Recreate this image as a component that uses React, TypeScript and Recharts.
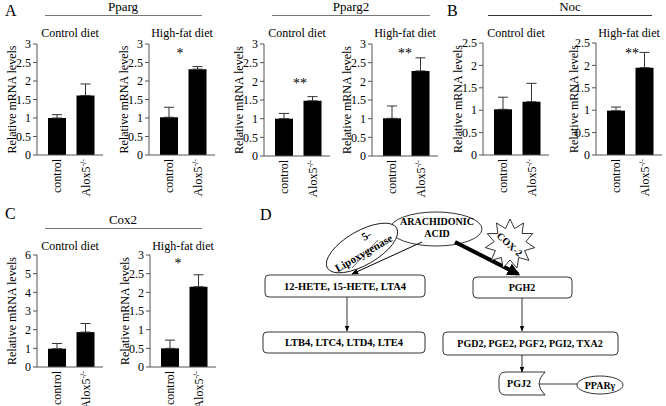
import React from 'react';
import { BarChart, Bar, XAxis, YAxis, ErrorBar, Label } from 'recharts';

// categories on every small chart
const groups = ['control', 'Alox5'];

// Pparg
const ppargControl = [1.0, 1.61];
const ppargControlErr = [0.09, 0.31];
const ppargHfd = [1.02, 2.32];
const ppargHfdErr = [0.27, 0.07];

// Pparg2
const pparg2Control = [1.0, 1.48];
const pparg2ControlErr = [0.14, 0.11];
const pparg2Hfd = [1.01, 2.28];
const pparg2HfdErr = [0.33, 0.35];

// Noc
const nocControl = [1.02, 1.19];
const nocControlErr = [0.27, 0.41];
const nocHfd = [0.99, 1.95];
const nocHfdErr = [0.08, 0.34];

// Cox2
const cox2Control = [0.98, 1.87];
const cox2ControlErr = [0.28, 0.46];
const cox2Hfd = [0.5, 2.15];
const cox2HfdErr = [0.22, 0.32];

const ticks3 = [0, 0.5, 1, 1.5, 2, 2.5, 3];
const ticks25 = [0, 0.5, 1, 1.5, 2, 2.5];
const ticks6 = [0, 1, 2, 3, 4, 5, 6];

const FONT = "'Liberation Serif', 'DejaVu Serif', 'Times New Roman', serif";
const AXIS = '#555';

const toRows = (vals: number[], errs: number[]) =>
  groups.map((g, i) => ({ name: g, value: vals[i], err: [0, errs[i]] }));

const XTick = ({ x, y, payload }: any) => (
  <text
    transform={`translate(${x},${y - 4}) rotate(-90)`}
    textAnchor="end"
    dy="0.35em"
    fontSize={12}
    style={{ fontFamily: FONT }}
    fill="#000"
  >
    {payload.value === 'Alox5' ? (
      <>
        Alox5<tspan fontSize={8} dy="-0.5em">-/-</tspan>
      </>
    ) : (
      payload.value
    )}
  </text>
);

const YLab = ({ viewBox, shift }: any) => {
  const cx = viewBox.x + viewBox.width - shift;
  const cy = viewBox.y + viewBox.height / 2;
  return (
    <text
      transform={`translate(${cx},${cy}) rotate(-90)`}
      textAnchor="middle"
      dy="0.35em"
      fontSize={12}
      style={{ fontFamily: FONT }}
      fill="#000"
    >
      Relative mRNA levels
    </text>
  );
};

interface PanelProps {
  axisX: number;
  plotTop: number;
  plotH: number;
  vals: number[];
  errs: number[];
  ticks: number[];
  labelShift?: number;
}

const Panel: React.FC<PanelProps> = ({ axisX, plotTop, plotH, vals, errs, ticks, labelShift = 25 }) => {
  const data = toRows(vals, errs);
  return (
    <div style={{ position: 'absolute', left: axisX - 50, top: plotTop - 10 }}>
      <BarChart width={120} height={plotH + 60} data={data} margin={{ top: 10, right: 4, left: 20, bottom: 0 }}>
        <XAxis
          dataKey="name"
          height={50}
          tickLine={false}
          axisLine={{ stroke: AXIS }}
          padding={{ left: 6, right: 3 }}
          interval={0}
          tick={<XTick />}
        />
        <YAxis
          width={30}
          domain={[0, ticks[ticks.length - 1]]}
          ticks={ticks}
          interval={0}
          tickSize={4}
          tickMargin={2}
          axisLine={{ stroke: AXIS }}
          tickLine={{ stroke: AXIS }}
          tick={{ fontSize: 12, fill: '#000', style: { fontFamily: FONT } }}
        >
          <Label content={(p: any) => <YLab viewBox={p.viewBox} shift={labelShift} />} />
        </YAxis>
        <Bar dataKey="value" fill="#000" barSize={18} isAnimationActive={false}>
          <ErrorBar dataKey="err" width={5} stroke="#333" strokeWidth={1} direction="y" />
        </Bar>
      </BarChart>
    </div>
  );
};

const starPoints = (cx: number, cy: number, ro: number, ri: number, n: number) => {
  const pts: string[] = [];
  for (let i = 0; i < n * 2; i++) {
    const r = i % 2 === 0 ? ro : ri;
    const a = (i * Math.PI) / n - Math.PI / 2;
    pts.push(`${(cx + r * Math.cos(a)).toFixed(1)},${(cy + r * Math.sin(a)).toFixed(1)}`);
  }
  return pts.join(' ');
};

const Overlay = () => {
  const t = { style: { fontFamily: FONT }, fill: '#000' } as const;
  const b = {
    style: { fontFamily: FONT, fontWeight: 'bold' as const },
    fill: '#000',
    fontSize: 10,
    textAnchor: 'middle' as const,
  };
  return (
    <svg width={666} height={406} style={{ position: 'absolute', left: 0, top: 0, pointerEvents: 'none' }}>
      <defs>
        <marker id="thin" viewBox="0 0 10 10" refX="9" refY="5" markerWidth="7" markerHeight="7" orient="auto">
          <path d="M0,1 L10,5 L0,9 z" fill="#000" />
        </marker>
        <marker id="thick" viewBox="0 0 10 10" refX="8" refY="5" markerWidth="3.2" markerHeight="3.2" orient="auto">
          <path d="M0,0 L10,5 L0,10 z" fill="#000" />
        </marker>
      </defs>

      {/* panel letters */}
      <text x={5} y={16} fontSize={16} {...t}>A</text>
      <text x={447} y={16} fontSize={16} {...t}>B</text>
      <text x={5} y={219} fontSize={16} {...t}>C</text>
      <text x={260} y={220} fontSize={16} {...t}>D</text>

      {/* gene headers */}
      <text x={123} y={11} fontSize={13} textAnchor="middle" {...t}>Pparg</text>
      <line x1={45} x2={202} y1={15.5} y2={15.5} stroke="#777" />
      <text x={351} y={11} fontSize={13} textAnchor="middle" {...t}>Pparg2</text>
      <line x1={272} x2={430} y1={15.5} y2={15.5} stroke="#777" />
      <text x={570} y={11} fontSize={13} textAnchor="middle" {...t}>Noc</text>
      <line x1={488} x2={652} y1={15.5} y2={15.5} stroke="#333" />
      <text x={123} y={224} fontSize={13} textAnchor="middle" {...t}>Cox2</text>
      <line x1={45} x2={202} y1={228.5} y2={228.5} stroke="#777" />

      {/* diet titles */}
      <text x={70} y={37} fontSize={12} textAnchor="middle" {...t}>Control diet</text>
      <text x={182} y={37} fontSize={12} textAnchor="middle" {...t}>High-fat diet</text>
      <text x={297} y={37} fontSize={12} textAnchor="middle" {...t}>Control diet</text>
      <text x={405} y={37} fontSize={12} textAnchor="middle" {...t}>High-fat diet</text>
      <text x={516} y={37} fontSize={12} textAnchor="middle" {...t}>Control diet</text>
      <text x={629} y={37} fontSize={12} textAnchor="middle" {...t}>High-fat diet</text>
      <text x={70} y={250} fontSize={12} textAnchor="middle" {...t}>Control diet</text>
      <text x={183} y={250} fontSize={12} textAnchor="middle" {...t}>High-fat diet</text>

      {/* significance marks */}
      <text x={180} y={58} fontSize={14} textAnchor="middle" {...t}>*</text>
      <text x={300} y={88} fontSize={14} textAnchor="middle" {...t}>**</text>
      <text x={405} y={58} fontSize={14} textAnchor="middle" {...t}>**</text>
      <text x={632} y={58} fontSize={14} textAnchor="middle" {...t}>**</text>
      <text x={178} y={268} fontSize={14} textAnchor="middle" {...t}>*</text>

      {/* D: pathway scheme */}
      <ellipse cx={436} cy={229} rx={46} ry={17} fill="#fff" stroke="#000" strokeWidth={0.8} />
      <text x={437} y={225} {...b}>ARACHIDONIC</text>
      <text x={437} y={237} {...b}>ACID</text>

      <g transform="translate(362,248) rotate(-30)">
        <ellipse cx={0} cy={0} rx={40} ry={17} fill="#fff" stroke="#000" strokeWidth={0.8} />
        <text x={10} y={-5} {...b} fontSize={11}>5-</text>
        <text x={-1} y={9} {...b} fontSize={11}>Lipoxygenase</text>
      </g>
      <line x1={352} y1={268} x2={378} y2={240} stroke="#000" strokeWidth={0.6} />

      <line x1={422} y1={242} x2={352} y2={274} stroke="#000" strokeWidth={1} markerEnd="url(#thin)" />
      <line x1={455} y1={242} x2={518} y2={274} stroke="#000" strokeWidth={4} markerEnd="url(#thick)" />

      <polygon points={starPoints(510, 244, 25, 16, 11)} fill="#fff" stroke="#000" strokeWidth={0.8} />
      <text x={510} y={248} {...b} transform="rotate(42 510 244)">COX-2</text>

      <rect x={265} y={275} width={160} height={22} rx={4} fill="#fff" stroke="#000" strokeWidth={0.8} />
      <text x={345} y={290} {...b} fontSize={10.5}>12-HETE, 15-HETE, LTA4</text>
      <rect x={473} y={277} width={99} height={21} rx={4} fill="#fff" stroke="#000" strokeWidth={0.8} />
      <text x={522} y={291} {...b}>PGH2</text>

      <line x1={347} y1={297} x2={347} y2={331} stroke="#000" strokeWidth={0.8} markerEnd="url(#thin)" />
      <line x1={522} y1={298} x2={522} y2={331} stroke="#000" strokeWidth={0.8} markerEnd="url(#thin)" />

      <rect x={263} y={332} width={162} height={21} rx={4} fill="#fff" stroke="#000" strokeWidth={0.8} />
      <text x={344} y={346} {...b} fontSize={10.5}>LTB4, LTC4, LTD4, LTE4</text>
      <rect x={443} y={332} width={175} height={23} rx={4} fill="#fff" stroke="#000" strokeWidth={0.8} />
      <text x={530} y={347} {...b}>PGD2, PGE2, PGF2, PGI2, TXA2</text>

      <line x1={522} y1={355} x2={522} y2={372} stroke="#000" strokeWidth={0.8} markerEnd="url(#thin)" />
      <path d="M506,372 L545,372 Q533,383.5 545,395 L506,395 Q499,395 499,388 L499,379 Q499,372 506,372 Z" fill="#fff" stroke="#000" strokeWidth={0.8} />
      <text x={519} y={387} {...b}>PGJ2</text>
      <line x1={539} y1={384} x2={577} y2={384} stroke="#000" strokeWidth={0.8} />
      <ellipse cx={600} cy={385} rx={23} ry={9} fill="#fff" stroke="#000" strokeWidth={0.8} />
      <text x={600} y={389} {...b}>PPARγ</text>
    </svg>
  );
};

export default function App() {
  return (
    <div style={{ position: 'absolute', left: 0, top: 0, width: 666, height: 406, background: '#fff', overflow: 'hidden' }}>
      <Panel axisX={37} plotTop={44} plotH={111} vals={ppargControl} errs={ppargControlErr} ticks={ticks3} />
      <Panel axisX={149} plotTop={44} plotH={111} vals={ppargHfd} errs={ppargHfdErr} ticks={ticks3} />
      <Panel axisX={264} plotTop={44} plotH={112} vals={pparg2Control} errs={pparg2ControlErr} ticks={ticks3} />
      <Panel axisX={372} plotTop={44} plotH={112} vals={pparg2Hfd} errs={pparg2HfdErr} ticks={ticks3} />
      <Panel axisX={483} plotTop={43} plotH={112} vals={nocControl} errs={nocControlErr} ticks={ticks25} />
      <Panel axisX={596} plotTop={43} plotH={112} vals={nocHfd} errs={nocHfdErr} ticks={ticks25} labelShift={22} />
      <Panel axisX={37} plotTop={255} plotH={112} vals={cox2Control} errs={cox2ControlErr} ticks={ticks6} />
      <Panel axisX={150} plotTop={255} plotH={112} vals={cox2Hfd} errs={cox2HfdErr} ticks={ticks3} />
      <Overlay />
    </div>
  );
}
